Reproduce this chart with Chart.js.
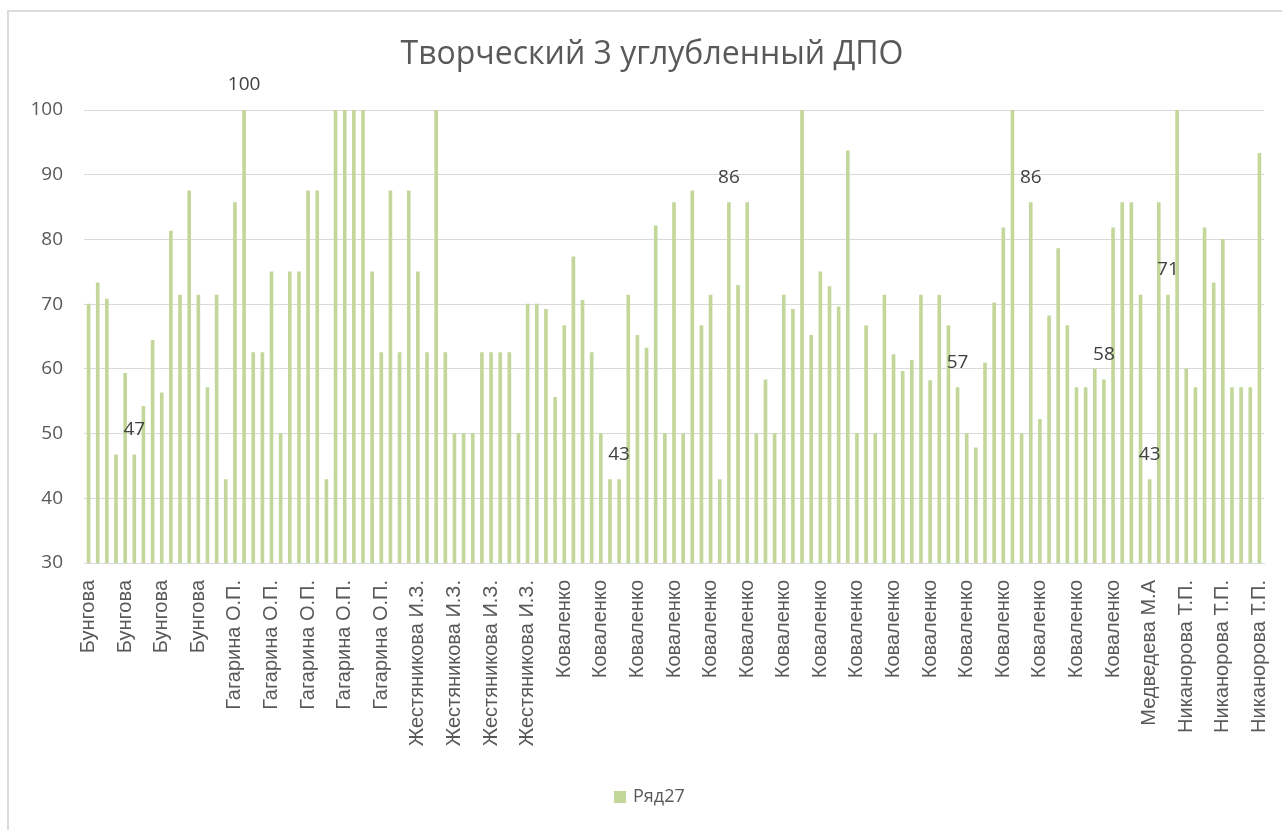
<!DOCTYPE html>
<html>
<head>
<meta charset="utf-8">
<script src="https://cdn.jsdelivr.net/npm/chart.js@4.4.0/dist/chart.umd.min.js"></script>
<style>
  body { margin: 0; background: #fff; }
  #wrap { position: relative; width: 1282px; height: 830px; overflow: hidden; }
  #frame { position: absolute; left: 7px; top: 10px; width: 1400px; height: 900px;
           border-left: 2px solid #dcdcdc; border-top: 2px solid #dcdcdc; }
  #myChart { position: absolute; left: 0; top: 0; }
</style>
</head>
<body>
<div id="wrap">
  <div id="frame"></div>
  <canvas id="myChart" width="1282" height="830"></canvas>
</div>
<script>
// данные с графика
const chartTitle = "Творческий 3 углубленный ДПО";
const seriesName = "Ряд27";
const teachers = ["Бунгова", "Гагарина О.П.", "Жестяникова И.З.", "Коваленко", "Медведева М.А", "Никанорова Т.П."];
const teacherCounts = [16, 20, 16, 64, 4, 9];
const scores = [
  70, 73.3, 70.8, 46.7, 59.3, 46.7, 54.2, 64.4, 56.3, 81.3,
  71.4, 87.5, 71.4, 57.1, 71.4, 42.9, 85.7, 100, 62.5, 62.5,
  75, 50, 75, 75, 87.5, 87.5, 42.9, 100, 100, 100,
  100, 75, 62.5, 87.5, 62.5, 87.5, 75, 62.5, 100, 62.5,
  50, 50, 50, 62.5, 62.5, 62.5, 62.5, 50, 70, 70,
  69.2, 55.6, 66.7, 77.3, 70.6, 62.5, 50, 42.9, 42.9, 71.4,
  65.2, 63.2, 82.1, 50, 85.7, 50, 87.5, 66.7, 71.4, 42.9,
  85.7, 72.9, 85.7, 50, 58.3, 50, 71.4, 69.2, 100, 65.2,
  75, 72.7, 69.6, 93.7, 50, 66.7, 50, 71.4, 62.2, 59.6,
  61.3, 71.4, 58.2, 71.4, 66.7, 57.1, 50, 47.8, 60.9, 70.2,
  81.8, 100, 50, 85.7, 52.2, 68.2, 78.6, 66.7, 57.1, 57.1,
  60, 58.3, 81.8, 85.7, 85.7, 71.4, 42.9, 85.7, 71.4, 100,
  60, 57.1, 81.8, 73.3, 80, 57.1, 57.1, 57.1, 93.3
];
// столбики с подписями значений (индексы)
const labeledBars = [5, 17, 58, 70, 95, 103, 111, 116, 118];
const yTicks = [30, 40, 50, 60, 70, 80, 90, 100];

const categories = [];
teachers.forEach((name, i) => {
  for (let k = 0; k < teacherCounts[i]; k++) categories.push(name);
});

const barColor = "#c4d79b";
const textColor = "#595959";

// подписи данных, заголовок и легенда как в Excel
const excelLook = {
  id: "excelLook",
  afterDatasetsDraw(chart) {
    const c = chart.ctx;
    const meta = chart.getDatasetMeta(0);
    c.save();
    c.font = "19px 'Open Sans'";
    c.fillStyle = "#404040";
    c.textAlign = "center";
    c.textBaseline = "middle";
    labeledBars.forEach(i => {
      const bar = meta.data[i];
      c.fillText(Math.round(scores[i]), bar.x, bar.y - 25);
    });
    c.restore();
  },
  afterDraw(chart) {
    const c = chart.ctx;
    c.save();
    // заголовок
    c.font = "32px 'Open Sans'";
    c.fillStyle = textColor;
    c.textAlign = "center";
    c.textBaseline = "middle";
    c.fillText(chartTitle, 652, 55);
    // легенда
    c.fillStyle = barColor;
    c.fillRect(614, 791, 12, 12);
    c.font = "18px 'Open Sans'";
    c.fillStyle = textColor;
    c.textAlign = "left";
    c.fillText(seriesName, 633, 797);
    c.restore();
  }
};

const ctx = document.getElementById("myChart").getContext("2d");
const chart = new Chart(ctx, {
  type: "bar",
  data: {
    labels: categories,
    datasets: [
      {
        label: seriesName,
        data: scores,
        backgroundColor: barColor,
        borderWidth: 0,
        barThickness: 3
      }
    ]
  },
  options: {
    responsive: false,
    animation: false,
    layout: { padding: { left: 0, right: 18, top: 110, bottom: 52 } },
    plugins: {
      title: { display: false },
      legend: { display: false },
      tooltip: { enabled: false }
    },
    scales: {
      x: {
        grid: { display: false, drawTicks: false },
        border: { color: "#d9d9d9", width: 1 },
        ticks: {
          autoSkip: false,
          maxRotation: 90,
          minRotation: 90,
          padding: 17,
          color: textColor,
          font: { family: "'Liberation Sans'", size: 20 },
          callback: function (value, index) {
            return index % 4 === 0 ? this.getLabelForValue(value) : "";
          }
        },
        afterFit: s => {
          s.height = 215;
          s.paddingLeft = 0;
          s.paddingRight = 0;
        }
      },
      y: {
        min: yTicks[0],
        max: yTicks[yTicks.length - 1],
        grid: { color: "#d9d9d9", drawTicks: false },
        border: { display: false },
        ticks: {
          stepSize: 10,
          padding: 21,
          color: textColor,
          font: { family: "'Open Sans'", size: 19 }
        },
        afterFit: s => {
          s.width = 84;
          s.paddingTop = 0;
          s.paddingBottom = 0;
        }
      }
    }
  },
  plugins: [excelLook]
});
</script>
</body>
</html>
